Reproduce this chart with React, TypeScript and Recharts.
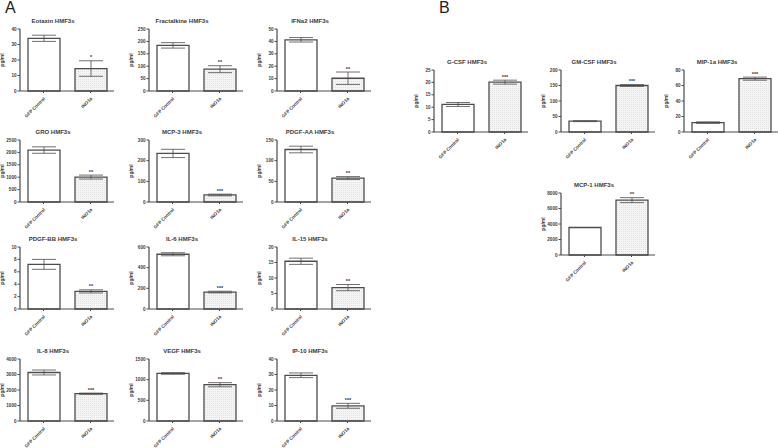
import React from 'react';
import { BarChart, Bar, XAxis, YAxis, ErrorBar, Cell, LabelList } from 'recharts';

const GROUPS = ['GFP Control', 'INO1a'];

const CYTOKINES = [
  'Eotaxin', 'Fractalkine', 'IFNa2',
  'GRO', 'MCP-3', 'PDGF-AA',
  'PDGF-BB', 'IL-6', 'IL-15',
  'IL-8', 'VEGF', 'IP-10',
  'G-CSF', 'GM-CSF', 'MIP-1a', 'MCP-1',
];

const GFP_MEAN = [34, 184, 41.3, 2095, 235, 127, 7.2, 530, 15.4, 3130, 1150, 29.5, 11.1, 35, 12.1, 3550];
const GFP_SEM = [2, 11, 1.8, 130, 20, 8, 0.8, 15, 1, 160, 20, 1.5, 0.8, 1.5, 1, 0];
const INO_MEAN = [14.5, 88, 10.3, 1005, 34, 58, 2.84, 164, 6.9, 1760, 878, 9.8, 20.1, 150, 68.8, 7080];
const INO_SEM = [5, 14, 5, 80, 4, 3.5, 0.25, 8, 1, 40, 50, 1.6, 0.8, 3, 2, 320];
const SIG = ['*', '**', '**', '**', '***', '**', '**', '***', '**', '***', '**', '***', '***', '***', '***', '**'];
const Y_MAX = [40, 250, 50, 2500, 300, 150, 10, 600, 20, 4000, 1500, 40, 25, 200, 80, 8000];
const Y_STEP = [10, 50, 10, 500, 100, 50, 2, 200, 5, 1000, 500, 10, 5, 50, 20, 2000];

// where each panel's y axis sits and where its plot starts (page px)
const PANEL_POS = [
  [20, 29], [149, 29], [277, 29],
  [20, 140], [149, 140], [277, 140],
  [20, 247], [149, 247], [277, 247],
  [20, 359], [149, 359], [277, 359],
  [434, 70], [561, 70], [684, 70], [561, 193],
];

const PLOT_H = 62;
const PLOT_W = 94;
const AXIS_W = 30;
const TOP = 10;
const XAX_H = 30;
const FONT = '"Liberation Sans", Arial, sans-serif';
const INK = '#3a3a3a';
const LINE = '#4a4a4a';

const XTick = (props: any) => {
  const { x, y, payload } = props;
  const tx = x + 2;
  const ty = y + 4;
  return (
    <text
      x={tx}
      y={ty}
      transform={`rotate(-45 ${tx} ${ty})`}
      textAnchor="end"
      fontSize={4.6}
      fontWeight="bold"
      fontFamily={FONT}
      fill={INK}
    >
      {payload.value}
    </text>
  );
};

const Panel = ({ i }: { i: number }) => {
  const [axisX, plotTop] = PANEL_POS[i];
  const data = GROUPS.map((name, g) => ({
    name,
    value: g === 0 ? GFP_MEAN[i] : INO_MEAN[i],
    err: g === 0 ? GFP_SEM[i] : INO_SEM[i],
    sig: g === 0 ? '' : SIG[i],
  }));
  const ticks: number[] = [];
  for (let t = 0; t <= Y_MAX[i] + 1e-9; t += Y_STEP[i]) ticks.push(t);
  const patId = `dots-${i}`;

  const renderStars = (p: any) => {
    const row = data[p.index];
    if (!row || !row.sig) return null;
    const perUnit = p.height / row.value;
    const sy = p.y - row.err * perUnit - 1.5;
    return (
      <text
        x={p.x + p.width / 2}
        y={sy}
        textAnchor="middle"
        fontSize={5.5}
        fontWeight="bold"
        fontFamily={FONT}
        fill={INK}
      >
        {row.sig}
      </text>
    );
  };

  return (
    <>
      <div
        style={{
          position: 'absolute',
          left: axisX + 33 - 60,
          top: plotTop - 12,
          width: 120,
          height: 8,
          lineHeight: '8px',
          textAlign: 'center',
          fontFamily: FONT,
          fontWeight: 'bold',
          fontSize: 6,
          color: INK,
          whiteSpace: 'nowrap',
        }}
      >
        {CYTOKINES[i]} HMF3s
      </div>
      <div style={{ position: 'absolute', left: axisX - AXIS_W, top: plotTop - TOP }}>
        <BarChart
          width={AXIS_W + PLOT_W + 10}
          height={TOP + PLOT_H + XAX_H}
          data={data}
          margin={{ top: TOP, right: 10, left: 0, bottom: 0 }}
          barSize={32}
        >
          <defs>
            <pattern id={patId} width="2" height="2" patternUnits="userSpaceOnUse">
              <rect width="2" height="2" fill="#f5f5f5" />
              <rect width="1" height="1" fill="#e2e2e2" />
            </pattern>
          </defs>
          <XAxis
            dataKey="name"
            height={XAX_H}
            interval={0}
            tick={<XTick />}
            tickSize={2}
            axisLine={{ stroke: LINE, strokeWidth: 1.2 }}
            tickLine={{ stroke: LINE }}
          />
          <YAxis
            width={AXIS_W}
            domain={[0, Y_MAX[i]]}
            ticks={ticks}
            interval={0}
            tickSize={2.5}
            tickMargin={1}
            tick={{ fontSize: 4.6, fontWeight: 'bold', fontFamily: FONT, fill: INK }}
            axisLine={{ stroke: LINE, strokeWidth: 1.2 }}
            tickLine={{ stroke: LINE }}
            label={{
              value: 'pg/ml',
              angle: -90,
              position: 'center',
              dx: -3,
              style: { fontSize: 5, fontWeight: 'bold', fontFamily: FONT, fill: INK },
            }}
          />
          <Bar dataKey="value" stroke="#4d4d4d" strokeWidth={1.3} isAnimationActive={false}>
            {data.map((d, g) => (
              <Cell key={d.name} fill={g === 0 ? '#ffffff' : `url(#${patId})`} />
            ))}
            <ErrorBar dataKey="err" width={12} stroke="#4d4d4d" strokeWidth={0.8} />
            <LabelList dataKey="sig" content={renderStars} />
          </Bar>
        </BarChart>
      </div>
    </>
  );
};

export default function App() {
  return (
    <div
      style={{
        position: 'absolute',
        left: 0,
        top: 0,
        width: 778,
        height: 448,
        background: '#ffffff',
        overflow: 'hidden',
      }}
    >
      <div style={{ position: 'absolute', left: 5, top: -1, fontFamily: FONT, fontSize: 16, color: '#222' }}>A</div>
      <div style={{ position: 'absolute', left: 439, top: -1, fontFamily: FONT, fontSize: 16, color: '#222' }}>B</div>
      {CYTOKINES.map((_, i) => (
        <Panel key={i} i={i} />
      ))}
    </div>
  );
}
